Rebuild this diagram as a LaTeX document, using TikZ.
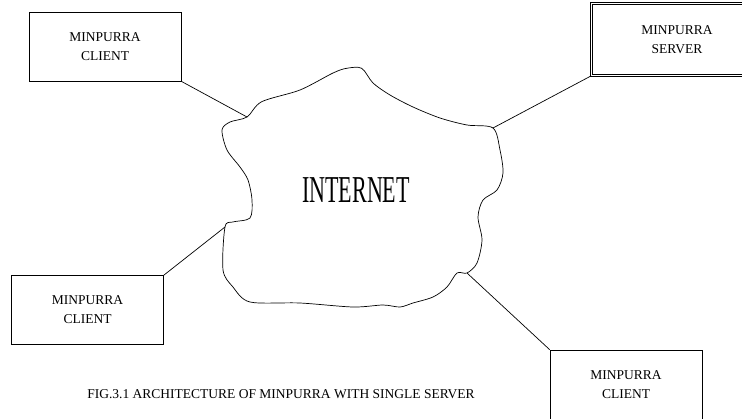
\documentclass[tikz,border=0pt]{standalone}
\usepackage{fontspec}
\setmainfont{Liberation Serif}
\usetikzlibrary{positioning}
\begin{document}
\begin{tikzpicture}[x=1pt, y=-1pt,
  cbox/.style={draw, line width=0.7pt, align=center, minimum width=152pt, minimum height=69pt, inner sep=2pt, font=\fontsize{13.5}{19}\selectfont},
  sbox/.style={cbox, double, double distance=1.6pt, minimum width=171pt, minimum height=72pt},
  link/.style={line width=0.7pt},
]
\useasboundingbox (0,0) rectangle (742,418);

\node[cbox] (c1) at (105,46.5) {MINPURRA\\CLIENT};
\node[sbox] (srv) at (677,39.5) {MINPURRA\\SERVER};
\node[cbox] (c2) at (87.5,310) {MINPURRA\\CLIENT};
\node[cbox] (c3) at (626,384.5) {MINPURRA\\CLIENT};

% the cloud
\draw[link] plot[smooth cycle, tension=0.5] coordinates {
  (247,117) (261.7,101.7) (300,90) (333,73) (346.7,68.3) (361.7,68.3) (373,83)
  (390,95) (413,107) (440,118) (467,125) (493,128) (500,150) (503,173) (497,190)
  (483,200) (478,217) (482,240) (477,263) (467,273) (457,273) (447,287) (433,297)
  (413,303) (400,307) (383,305) (353,307) (300,303) (250,302) (233,287) (223,270)
  (225,227) (233,222) (250,218) (252,200) (248,180) (240,167) (227,150) (222,130)
  (230,122)};
\coordinate (j1) at (247,117);
\coordinate (j2) at (493,128);
\coordinate (j3) at (467,273);
\coordinate (j4) at (225,227);
\node (net) at (356,190) {\scalebox{0.58}[1]{\fontsize{38}{38}\selectfont INTERNET}};

\draw[link] (c1.south east) -- (j1);
\draw[link] (srv.south west) -- (j2);
\draw[link] (c2.north east) -- (j4);
\draw[link] (c3.north west) -- (j3);

\node[font=\fontsize{13.5}{16}\selectfont] (cap) at (281,394) {FIG.3.1 ARCHITECTURE OF MINPURRA WITH SINGLE SERVER};
\end{tikzpicture}
\end{document}
